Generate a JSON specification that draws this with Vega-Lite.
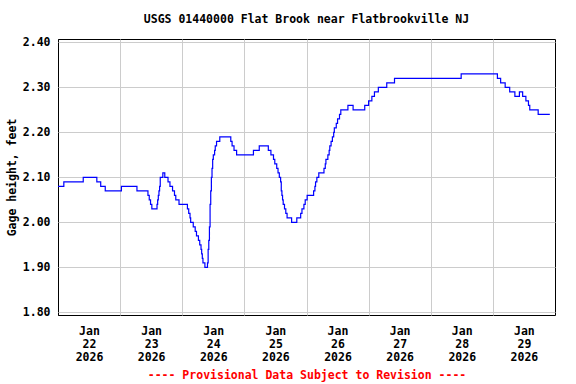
{
  "$schema": "https://vega.github.io/schema/vega-lite/v6.json",
  "width": 497,
  "height": 276,
  "autosize": {"type": "none"},
  "padding": {"left": 58, "top": 39, "right": 21, "bottom": 69},
  "title": {"text": "USGS 01440000 Flat Brook near Flatbrookville NJ", "font": "DejaVu Sans Mono", "fontSize": 11.5, "fontWeight": "bold", "color": "black", "offset": 11, "anchor": "middle"},
  "data": {"values": [
    {"datetime": "2026-01-22T00:00:00Z", "gage_height": 2.08},
    {"datetime": "2026-01-22T02:15:00Z", "gage_height": 2.09},
    {"datetime": "2026-01-22T09:45:00Z", "gage_height": 2.10},
    {"datetime": "2026-01-22T15:00:00Z", "gage_height": 2.09},
    {"datetime": "2026-01-22T16:30:00Z", "gage_height": 2.08},
    {"datetime": "2026-01-22T18:15:00Z", "gage_height": 2.07},
    {"datetime": "2026-01-23T00:30:00Z", "gage_height": 2.08},
    {"datetime": "2026-01-23T06:30:00Z", "gage_height": 2.07},
    {"datetime": "2026-01-23T10:45:00Z", "gage_height": 2.06},
    {"datetime": "2026-01-23T11:15:00Z", "gage_height": 2.05},
    {"datetime": "2026-01-23T11:45:00Z", "gage_height": 2.04},
    {"datetime": "2026-01-23T12:15:00Z", "gage_height": 2.03},
    {"datetime": "2026-01-23T14:15:00Z", "gage_height": 2.04},
    {"datetime": "2026-01-23T14:30:00Z", "gage_height": 2.05},
    {"datetime": "2026-01-23T14:45:00Z", "gage_height": 2.06},
    {"datetime": "2026-01-23T15:00:00Z", "gage_height": 2.07},
    {"datetime": "2026-01-23T15:15:00Z", "gage_height": 2.08},
    {"datetime": "2026-01-23T15:30:00Z", "gage_height": 2.10},
    {"datetime": "2026-01-23T16:30:00Z", "gage_height": 2.11},
    {"datetime": "2026-01-23T17:15:00Z", "gage_height": 2.10},
    {"datetime": "2026-01-23T18:30:00Z", "gage_height": 2.09},
    {"datetime": "2026-01-23T19:15:00Z", "gage_height": 2.08},
    {"datetime": "2026-01-23T20:15:00Z", "gage_height": 2.07},
    {"datetime": "2026-01-23T21:00:00Z", "gage_height": 2.06},
    {"datetime": "2026-01-23T21:30:00Z", "gage_height": 2.05},
    {"datetime": "2026-01-23T22:45:00Z", "gage_height": 2.04},
    {"datetime": "2026-01-24T02:00:00Z", "gage_height": 2.03},
    {"datetime": "2026-01-24T02:30:00Z", "gage_height": 2.02},
    {"datetime": "2026-01-24T03:00:00Z", "gage_height": 2.01},
    {"datetime": "2026-01-24T03:15:00Z", "gage_height": 2.00},
    {"datetime": "2026-01-24T04:15:00Z", "gage_height": 1.99},
    {"datetime": "2026-01-24T05:00:00Z", "gage_height": 1.98},
    {"datetime": "2026-01-24T05:30:00Z", "gage_height": 1.97},
    {"datetime": "2026-01-24T06:15:00Z", "gage_height": 1.96},
    {"datetime": "2026-01-24T06:45:00Z", "gage_height": 1.95},
    {"datetime": "2026-01-24T07:15:00Z", "gage_height": 1.94},
    {"datetime": "2026-01-24T07:30:00Z", "gage_height": 1.93},
    {"datetime": "2026-01-24T07:45:00Z", "gage_height": 1.92},
    {"datetime": "2026-01-24T08:00:00Z", "gage_height": 1.91},
    {"datetime": "2026-01-24T08:45:00Z", "gage_height": 1.90},
    {"datetime": "2026-01-24T09:45:00Z", "gage_height": 1.91},
    {"datetime": "2026-01-24T10:00:00Z", "gage_height": 1.94},
    {"datetime": "2026-01-24T10:15:00Z", "gage_height": 1.96},
    {"datetime": "2026-01-24T10:30:00Z", "gage_height": 1.99},
    {"datetime": "2026-01-24T10:45:00Z", "gage_height": 2.04},
    {"datetime": "2026-01-24T11:00:00Z", "gage_height": 2.07},
    {"datetime": "2026-01-24T11:15:00Z", "gage_height": 2.10},
    {"datetime": "2026-01-24T11:30:00Z", "gage_height": 2.12},
    {"datetime": "2026-01-24T11:45:00Z", "gage_height": 2.14},
    {"datetime": "2026-01-24T12:00:00Z", "gage_height": 2.15},
    {"datetime": "2026-01-24T12:30:00Z", "gage_height": 2.16},
    {"datetime": "2026-01-24T12:45:00Z", "gage_height": 2.17},
    {"datetime": "2026-01-24T13:15:00Z", "gage_height": 2.18},
    {"datetime": "2026-01-24T14:30:00Z", "gage_height": 2.19},
    {"datetime": "2026-01-24T18:45:00Z", "gage_height": 2.18},
    {"datetime": "2026-01-24T19:15:00Z", "gage_height": 2.17},
    {"datetime": "2026-01-24T20:00:00Z", "gage_height": 2.16},
    {"datetime": "2026-01-24T21:00:00Z", "gage_height": 2.15},
    {"datetime": "2026-01-25T03:30:00Z", "gage_height": 2.16},
    {"datetime": "2026-01-25T05:45:00Z", "gage_height": 2.17},
    {"datetime": "2026-01-25T09:15:00Z", "gage_height": 2.16},
    {"datetime": "2026-01-25T10:15:00Z", "gage_height": 2.15},
    {"datetime": "2026-01-25T11:15:00Z", "gage_height": 2.14},
    {"datetime": "2026-01-25T11:45:00Z", "gage_height": 2.13},
    {"datetime": "2026-01-25T12:30:00Z", "gage_height": 2.12},
    {"datetime": "2026-01-25T13:00:00Z", "gage_height": 2.11},
    {"datetime": "2026-01-25T13:30:00Z", "gage_height": 2.10},
    {"datetime": "2026-01-25T14:00:00Z", "gage_height": 2.09},
    {"datetime": "2026-01-25T14:15:00Z", "gage_height": 2.07},
    {"datetime": "2026-01-25T14:30:00Z", "gage_height": 2.06},
    {"datetime": "2026-01-25T14:45:00Z", "gage_height": 2.05},
    {"datetime": "2026-01-25T15:00:00Z", "gage_height": 2.04},
    {"datetime": "2026-01-25T15:30:00Z", "gage_height": 2.03},
    {"datetime": "2026-01-25T16:00:00Z", "gage_height": 2.02},
    {"datetime": "2026-01-25T16:30:00Z", "gage_height": 2.01},
    {"datetime": "2026-01-25T18:15:00Z", "gage_height": 2.00},
    {"datetime": "2026-01-25T20:15:00Z", "gage_height": 2.01},
    {"datetime": "2026-01-25T21:45:00Z", "gage_height": 2.02},
    {"datetime": "2026-01-25T22:15:00Z", "gage_height": 2.03},
    {"datetime": "2026-01-25T23:00:00Z", "gage_height": 2.04},
    {"datetime": "2026-01-25T23:30:00Z", "gage_height": 2.05},
    {"datetime": "2026-01-26T00:15:00Z", "gage_height": 2.06},
    {"datetime": "2026-01-26T02:45:00Z", "gage_height": 2.07},
    {"datetime": "2026-01-26T03:15:00Z", "gage_height": 2.08},
    {"datetime": "2026-01-26T03:30:00Z", "gage_height": 2.09},
    {"datetime": "2026-01-26T04:00:00Z", "gage_height": 2.10},
    {"datetime": "2026-01-26T04:45:00Z", "gage_height": 2.11},
    {"datetime": "2026-01-26T06:45:00Z", "gage_height": 2.12},
    {"datetime": "2026-01-26T07:15:00Z", "gage_height": 2.13},
    {"datetime": "2026-01-26T07:30:00Z", "gage_height": 2.14},
    {"datetime": "2026-01-26T08:15:00Z", "gage_height": 2.15},
    {"datetime": "2026-01-26T08:45:00Z", "gage_height": 2.16},
    {"datetime": "2026-01-26T09:00:00Z", "gage_height": 2.17},
    {"datetime": "2026-01-26T09:30:00Z", "gage_height": 2.18},
    {"datetime": "2026-01-26T10:00:00Z", "gage_height": 2.19},
    {"datetime": "2026-01-26T10:30:00Z", "gage_height": 2.20},
    {"datetime": "2026-01-26T10:45:00Z", "gage_height": 2.21},
    {"datetime": "2026-01-26T11:30:00Z", "gage_height": 2.22},
    {"datetime": "2026-01-26T12:00:00Z", "gage_height": 2.23},
    {"datetime": "2026-01-26T12:45:00Z", "gage_height": 2.24},
    {"datetime": "2026-01-26T13:15:00Z", "gage_height": 2.25},
    {"datetime": "2026-01-26T16:00:00Z", "gage_height": 2.26},
    {"datetime": "2026-01-26T18:00:00Z", "gage_height": 2.25},
    {"datetime": "2026-01-26T22:30:00Z", "gage_height": 2.26},
    {"datetime": "2026-01-27T00:00:00Z", "gage_height": 2.27},
    {"datetime": "2026-01-27T01:15:00Z", "gage_height": 2.28},
    {"datetime": "2026-01-27T02:15:00Z", "gage_height": 2.29},
    {"datetime": "2026-01-27T03:45:00Z", "gage_height": 2.30},
    {"datetime": "2026-01-27T07:00:00Z", "gage_height": 2.31},
    {"datetime": "2026-01-27T10:00:00Z", "gage_height": 2.32},
    {"datetime": "2026-01-28T11:45:00Z", "gage_height": 2.33},
    {"datetime": "2026-01-29T01:45:00Z", "gage_height": 2.32},
    {"datetime": "2026-01-29T03:00:00Z", "gage_height": 2.31},
    {"datetime": "2026-01-29T04:45:00Z", "gage_height": 2.30},
    {"datetime": "2026-01-29T06:30:00Z", "gage_height": 2.29},
    {"datetime": "2026-01-29T08:30:00Z", "gage_height": 2.28},
    {"datetime": "2026-01-29T10:15:00Z", "gage_height": 2.29},
    {"datetime": "2026-01-29T11:30:00Z", "gage_height": 2.28},
    {"datetime": "2026-01-29T12:45:00Z", "gage_height": 2.27},
    {"datetime": "2026-01-29T13:45:00Z", "gage_height": 2.26},
    {"datetime": "2026-01-29T14:15:00Z", "gage_height": 2.25},
    {"datetime": "2026-01-29T17:30:00Z", "gage_height": 2.24},
    {"datetime": "2026-01-29T22:00:00Z", "gage_height": 2.24}
  ]},
  "mark": {"type": "line", "interpolate": "step-after", "color": "#0000ff", "strokeWidth": 1.2},
  "encoding": {
    "x": {
      "field": "datetime", "type": "temporal",
      "scale": {"type": "utc", "domain": [{"year": 2026, "month": 1, "date": 22, "utc": true}, {"year": 2026, "month": 1, "date": 30, "utc": true}]},
      "axis": {
        "values": [
          {"year": 2026, "month": 1, "date": 22, "utc": true},
          {"year": 2026, "month": 1, "date": 23, "utc": true},
          {"year": 2026, "month": 1, "date": 24, "utc": true},
          {"year": 2026, "month": 1, "date": 25, "utc": true},
          {"year": 2026, "month": 1, "date": 26, "utc": true},
          {"year": 2026, "month": 1, "date": 27, "utc": true},
          {"year": 2026, "month": 1, "date": 28, "utc": true},
          {"year": 2026, "month": 1, "date": 29, "utc": true}
        ],
        "grid": true,
        "gridColor": {"condition": {"test": "datum.value < 1769043600000", "value": "black"}, "value": "#cccccc"},
        "gridWidth": 1,
        "ticks": false,
        "domain": false,
        "labelOffset": 31,
        "labelExpr": "[utcFormat(datum.value, '%b'), utcFormat(datum.value, '%d'), utcFormat(datum.value, '%Y')]",
        "labelLineHeight": 13,
        "labelPadding": 10,
        "labelFont": "DejaVu Sans Mono",
        "labelFontSize": 11.5,
        "labelFontWeight": "bold",
        "labelColor": "black",
        "labelOverlap": false,
        "labelFlush": false,
        "labelBound": false,
        "title": "---- Provisional Data Subject to Revision ----",
        "titleColor": "#ff0000",
        "titleFont": "DejaVu Sans Mono",
        "titleFontSize": 11.5,
        "titleFontWeight": "bold",
        "titlePadding": 7
      }
    },
    "y": {
      "field": "gage_height", "type": "quantitative",
      "scale": {"domain": [1.794, 2.4076], "nice": false, "zero": false},
      "axis": {
        "values": [1.8, 1.9, 2.0, 2.1, 2.2, 2.3, 2.4],
        "format": ".2f",
        "grid": true,
        "gridColor": "#cccccc",
        "ticks": false,
        "domain": false,
        "labelPadding": 8,
        "labelFont": "DejaVu Sans Mono",
        "labelFontSize": 11.5,
        "labelFontWeight": "bold",
        "labelColor": "black",
        "title": "Gage height, feet",
        "titleColor": "black",
        "titleFont": "DejaVu Sans Mono",
        "titleFontSize": 11.5,
        "titleFontWeight": "bold",
        "titlePadding": 5
      }
    }
  },
  "config": {"view": {"stroke": "black", "strokeWidth": 1}}
}
